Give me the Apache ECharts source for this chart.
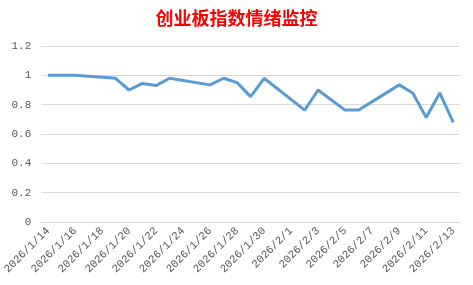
<!DOCTYPE html>
<html><head><meta charset="utf-8">
<script src="https://cdn.jsdelivr.net/npm/echarts@6/dist/echarts.min.js"></script>
<style>html,body{margin:0;padding:0;background:#fff}#c{width:473px;height:285px}</style>
</head><body><div id="c"></div>
<script>
const titleText = '创业板指数情绪监控';
const dates = ['2026/1/14','2026/1/15','2026/1/16','2026/1/17','2026/1/18','2026/1/19','2026/1/20','2026/1/21','2026/1/22','2026/1/23','2026/1/24','2026/1/25','2026/1/26','2026/1/27','2026/1/28','2026/1/29','2026/1/30','2026/1/31','2026/2/1','2026/2/2','2026/2/3','2026/2/4','2026/2/5','2026/2/6','2026/2/7','2026/2/8','2026/2/9','2026/2/10','2026/2/11','2026/2/12','2026/2/13'];
const values = [1.0,1.0,1.0,null,null,0.98,0.90,0.945,0.93,0.98,null,null,0.935,0.98,0.95,0.855,0.98,null,null,0.763,0.90,0.83,0.763,0.763,null,null,0.935,0.88,0.713,0.88,0.68];
const yMin = 0, yMax = 1.2, yStep = 0.2;

const chart = echarts.init(document.getElementById('c'), null, {renderer:'canvas'});
chart.setOption({
  animation:false,
  title:{text:titleText,left:'center',top:4,textStyle:{color:'#ff0000',fontSize:18,fontWeight:'bold',fontFamily:'Noto Sans CJK SC'}},
  grid:{left:40,right:13,top:46,bottom:63},
  xAxis:{type:'category',data:dates,boundaryGap:true,
    axisLine:{lineStyle:{color:'#d9d9d9'}},
    axisTick:{interval:1,length:4,lineStyle:{color:'#d9d9d9'}},
    axisLabel:{interval:1,rotate:45,color:'#595959',fontSize:11,fontFamily:'Liberation Mono',margin:7}},
  yAxis:{type:'value',min:yMin,max:yMax,interval:yStep,
    axisLine:{show:false},axisTick:{show:false},
    splitLine:{lineStyle:{color:'#d9d9d9'}},
    axisLabel:{color:'#595959',fontSize:11,fontFamily:'Liberation Mono',margin:10}},
  series:[{type:'line',data:values,connectNulls:true,showSymbol:false,symbol:'none',
    lineStyle:{color:'#5b9bd5',width:3},itemStyle:{color:'#5b9bd5'}}]
});
</script></body></html>
